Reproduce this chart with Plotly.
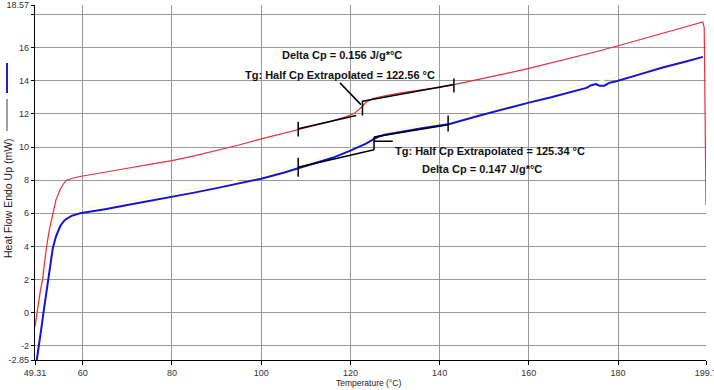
import plotly.graph_objects as go

# ---------------- data ----------------
red_T = [49.31, 50.0, 50.5, 51.0, 51.5, 51.9, 52.6, 53.3, 54.0, 54.9, 55.6, 56.4, 57.5, 59.4,
         62, 65, 70, 75, 80, 85, 90, 95, 100, 105, 108.3, 112, 116, 119, 121, 122.5, 123.5,
         125, 128, 132, 136, 140, 143.2, 149, 155, 160, 165, 170, 175, 179.6, 185, 190, 195,
         199.0, 199.3, 199.7]
red_HF = [-0.85, 0.5, 1.3, 2.0, 3.1, 4.0, 5.1, 6.0, 6.8, 7.4, 7.75, 8.0, 8.1, 8.22,
          8.35, 8.5, 8.72, 8.95, 9.18, 9.47, 9.78, 10.12, 10.49, 10.81, 11.05, 11.3, 11.58, 11.82,
          12.05, 12.4, 12.7, 12.93, 13.1, 13.3, 13.45, 13.6, 13.77, 14.08, 14.44, 14.75, 15.07,
          15.4, 15.75, 16.08, 16.48, 16.86, 17.24, 17.55, 17.2, 6.5]

blue_T = [49.7, 50.2, 50.7, 51.2, 51.7, 52.3, 52.8, 53.3, 54.0, 55.0, 56.0, 57.5, 59.4,
          62, 65, 70, 75, 80, 85, 90, 95, 100, 105, 108.3, 112, 116, 120, 122, 123.5, 125,
          126.5, 128, 132, 136, 140, 142, 149, 155, 160, 165, 170, 172.9, 174.0, 175.1,
          175.8, 176.9, 178.0, 179.6, 185, 190, 195, 199.0]
blue_HF = [-2.85, -2.0, -1.0, 0.0, 1.0, 2.0, 3.0, 3.9, 4.6, 5.25, 5.6, 5.85, 6.0,
           6.1, 6.25, 6.5, 6.74, 6.99, 7.25, 7.52, 7.8, 8.09, 8.45, 8.72, 9.0, 9.35, 9.78,
           10.0, 10.2, 10.45, 10.65, 10.75, 10.95, 11.13, 11.3, 11.38, 11.9, 12.35, 12.68,
           13.0, 13.35, 13.57, 13.73, 13.8, 13.7, 13.7, 13.87, 13.97, 14.4, 14.8, 15.15, 15.44]

yellow_T = [49.31, 50.5, 51.5, 52.5, 53.5, 55, 57, 60, 70, 80, 90, 100, 110, 120, 125,
            130, 140, 150, 160, 170, 180, 190, 199]
yellow_HF = [-0.5, 1.5, 3.5, 5.0, 5.8, 6.1, 6.2, 6.3, 6.7, 7.2, 7.75, 8.3, 9.0, 9.95,
             10.6, 11.0, 11.55, 12.2, 12.9, 13.6, 14.25, 14.9, 15.65]

# Glass transition construction lines (temperature, heat flow)
red_lower_T, red_lower_HF = [108.3, 121.3], [11.1, 11.9]
red_upper_T, red_upper_HF = [122.7, 143.2], [12.76, 13.77]
red_tick1_T, red_tick1_HF = [108.3, 108.3], [10.63, 11.53]
red_tick2_T, red_tick2_HF = [143.2, 143.2], [13.29, 14.13]
red_step_T, red_step_HF = [122.7, 122.7], [11.9, 12.8]
red_lead_T, red_lead_HF = [117.66, 122.36], [13.87, 12.56]

blue_lower_T, blue_lower_HF = [108.3, 125.3], [8.78, 9.84]
blue_upper_T, blue_upper_HF = [125.3, 141.9], [10.6, 11.35]
blue_tick1_T, blue_tick1_HF = [108.3, 108.3], [8.2, 9.36]
blue_tick2_T, blue_tick2_HF = [141.9, 141.9], [10.93, 11.9]
blue_step_T, blue_step_HF = [125.3, 125.3], [9.84, 10.61]
blue_lead_T, blue_lead_HF = [125.3, 129.5], [10.35, 10.35]

labels = [
    ("Delta Cp = 0.156 J/g*°C", 118.04, 15.58),
    ("Tg: Half Cp Extrapolated = 122.56 °C", 117.66, 14.37),
    ("Tg: Half Cp Extrapolated = 125.34 °C", 151.27, 9.74),
    ("Delta Cp = 0.147 J/g*°C", 149.4, 8.68),
]

x_ticks = [49.31, 60, 80, 100, 120, 140, 160, 180, 199.7]
x_ticktext = ["49.31", "60", "80", "100", "120", "140", "160", "180", "199.7"]
y_ticks = [-2.85, -2, 0, 2, 4, 6, 8, 10, 12, 14, 16, 18, 18.57]
y_ticktext = ["-2.85", "-2", "0", "2", "4", "6", "8", "10", "12", "14", "16", "", "18.57"]

# ---------------- figure ----------------
fig = go.Figure()
fig.add_trace(go.Scatter(x=yellow_T, y=yellow_HF, mode="lines",
                         line=dict(color="#fafac0", width=1), hoverinfo="skip"))
fig.add_trace(go.Scatter(x=red_T, y=red_HF, mode="lines",
                         line=dict(color="#e23040", width=1.2)))
fig.add_trace(go.Scatter(x=blue_T, y=blue_HF, mode="lines",
                         line=dict(color="#1414d8", width=2)))

segs = [(red_lower_T, red_lower_HF), (red_upper_T, red_upper_HF), (red_tick1_T, red_tick1_HF),
        (red_tick2_T, red_tick2_HF), (red_step_T, red_step_HF), (red_lead_T, red_lead_HF),
        (blue_lower_T, blue_lower_HF), (blue_upper_T, blue_upper_HF), (blue_tick1_T, blue_tick1_HF),
        (blue_tick2_T, blue_tick2_HF), (blue_step_T, blue_step_HF), (blue_lead_T, blue_lead_HF)]
sx, sy = [], []
for tx, ty in segs:
    sx += list(tx) + [None]
    sy += list(ty) + [None]
fig.add_trace(go.Scatter(x=sx, y=sy, mode="lines", line=dict(color="black", width=1.5),
                         connectgaps=False))

for text, tx, ty in labels:
    fig.add_annotation(x=tx, y=ty, text="<b>%s</b>" % text, showarrow=False,
                       xanchor="center", yanchor="middle",
                       font=dict(family="Liberation Sans, Arial", size=11, color="#111"))

# y title with legend markers
W, H = 714, 390
ml, mr, mt, mb = 35, 8, 5, 30
pw, ph = W - ml - mr, H - mt - mb
def px2paper_x(px):
    return (px - ml) / pw
def py2paper_y(py):
    return (H - mb - py) / ph

fig.add_annotation(xref="paper", yref="paper", x=px2paper_x(8), y=py2paper_y(198),
                   xanchor="center", yanchor="middle",
                   text="Heat Flow Endo Up (mW)", textangle=-90, showarrow=False,
                   font=dict(family="Liberation Sans, Arial", size=10.5, color="#222"))
fig.add_annotation(xref="paper", yref="paper", x=px2paper_x(368), y=py2paper_y(383),
                   xanchor="center", yanchor="middle",
                   text="Temperature (°C)", showarrow=False,
                   font=dict(family="Liberation Sans, Arial", size=8.5, color="#222"))
fig.add_shape(type="line", xref="paper", yref="paper", x0=px2paper_x(7), x1=px2paper_x(7),
              y0=py2paper_y(63), y1=py2paper_y(93), line=dict(color="#2020c0", width=2))
fig.add_shape(type="line", xref="paper", yref="paper", x0=px2paper_x(7), x1=px2paper_x(7),
              y0=py2paper_y(99), y1=py2paper_y(131), line=dict(color="#808080", width=1.5))

axis_font = dict(family="Liberation Sans, Arial", size=9, color="#333")
fig.update_layout(
    template="none",
    width=W, height=H, margin=dict(l=ml, r=mr, t=mt, b=mb, autoexpand=False),
    paper_bgcolor="white", plot_bgcolor="white", showlegend=False,
    xaxis=dict(range=[49.31, 199.7], tickvals=x_ticks, ticktext=x_ticktext,
               showgrid=True, gridcolor="#999999", gridwidth=1, zeroline=False,
               showline=True, linecolor="black", linewidth=1.2, mirror=False,
               ticks="outside", ticklen=4, tickcolor="black", tickfont=axis_font,
               ticklabeloverflow="allow", automargin=False),
    yaxis=dict(range=[-2.85, 18.57], tickvals=y_ticks, ticktext=y_ticktext,
               showgrid=True, gridcolor="#999999", gridwidth=1, zeroline=False,
               showline=True, linecolor="black", linewidth=1.2,
               ticks="outside", ticklen=3, tickcolor="black", tickfont=axis_font,
               ticklabeloverflow="allow", automargin=False),
)

fig.write_html("out.html", config={"displayModeBar": False},
               post_script="document.body.style.margin='0';document.body.style.overflow='hidden';")
